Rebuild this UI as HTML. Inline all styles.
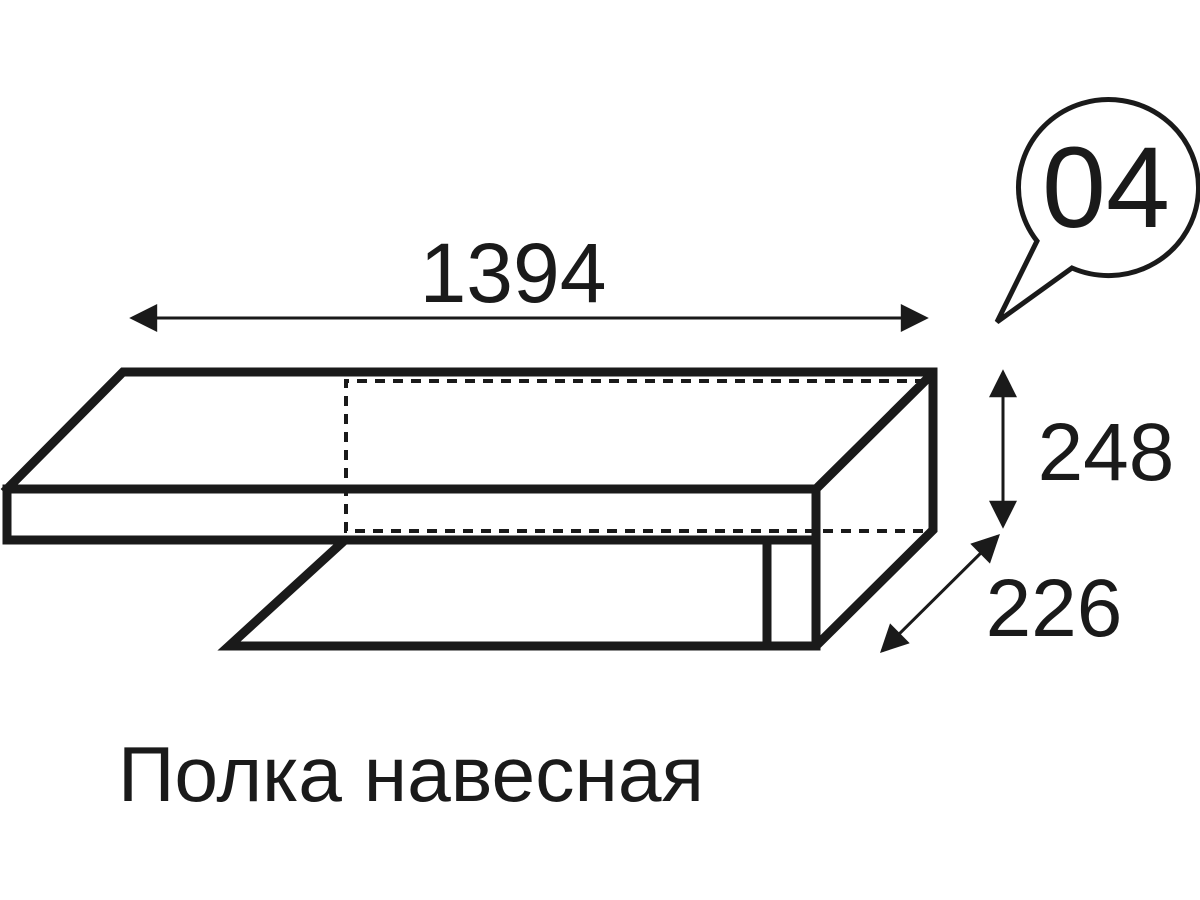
<!DOCTYPE html>
<html><head><meta charset="utf-8"><style>html,body{margin:0;padding:0;background:#fff}svg{display:block}</style></head>
<body>
<svg width="1200" height="900" viewBox="0 0 1200 900" xmlns="http://www.w3.org/2000/svg">
<defs>
<marker id="b" viewBox="0 0 10 10" refX="9" refY="5" markerWidth="40" markerHeight="28" orient="auto-start-reverse" markerUnits="userSpaceOnUse">
<path d="M0,0 L10,5 L0,10 Z" fill="#1a1a1a"/></marker>
</defs>
<g stroke="#1a1a1a" stroke-width="9" fill="none" stroke-linejoin="miter" stroke-linecap="square">
<polyline points="7,489 123,372 933,372 933,530 816,646 229,646 345,540 7,540 7,489 816,489 816,646"/>
<line x1="816" y1="489" x2="930" y2="376"/>
<line x1="767" y1="540" x2="767" y2="646"/>
<line x1="345" y1="540" x2="816" y2="540"/>
</g>
<g stroke="#1a1a1a" stroke-width="4" fill="none" stroke-dasharray="10,8">
<polyline points="925,381 346,381 346,531 925,531"/>
</g>
<g stroke="#1a1a1a" stroke-width="3" fill="none">
<line x1="132" y1="318" x2="926" y2="318" marker-start="url(#b)" marker-end="url(#b)"/>
<line x1="1003" y1="372" x2="1003" y2="526" marker-start="url(#b)" marker-end="url(#b)"/>
<line x1="998" y1="536" x2="882" y2="651" marker-start="url(#b)" marker-end="url(#b)"/>
</g>
<path d="M1037,241 A90,88 0 1 1 1072,268 L997,322 Z" fill="none" stroke="#1a1a1a" stroke-width="5" stroke-linejoin="miter"/>
<g font-family="'Liberation Sans', sans-serif" fill="#1a1a1a">
<text x="513" y="302" font-size="84" text-anchor="middle">1394</text>
<text x="1106" y="227" font-size="115" text-anchor="middle">04</text>
<text x="1106" y="480" font-size="82" text-anchor="middle">248</text>
<text x="1054" y="636" font-size="82" text-anchor="middle">226</text>
<text x="118" y="801" font-size="78" textLength="586" lengthAdjust="spacingAndGlyphs">Полка навесная</text>
</g>
</svg>
</body></html>
